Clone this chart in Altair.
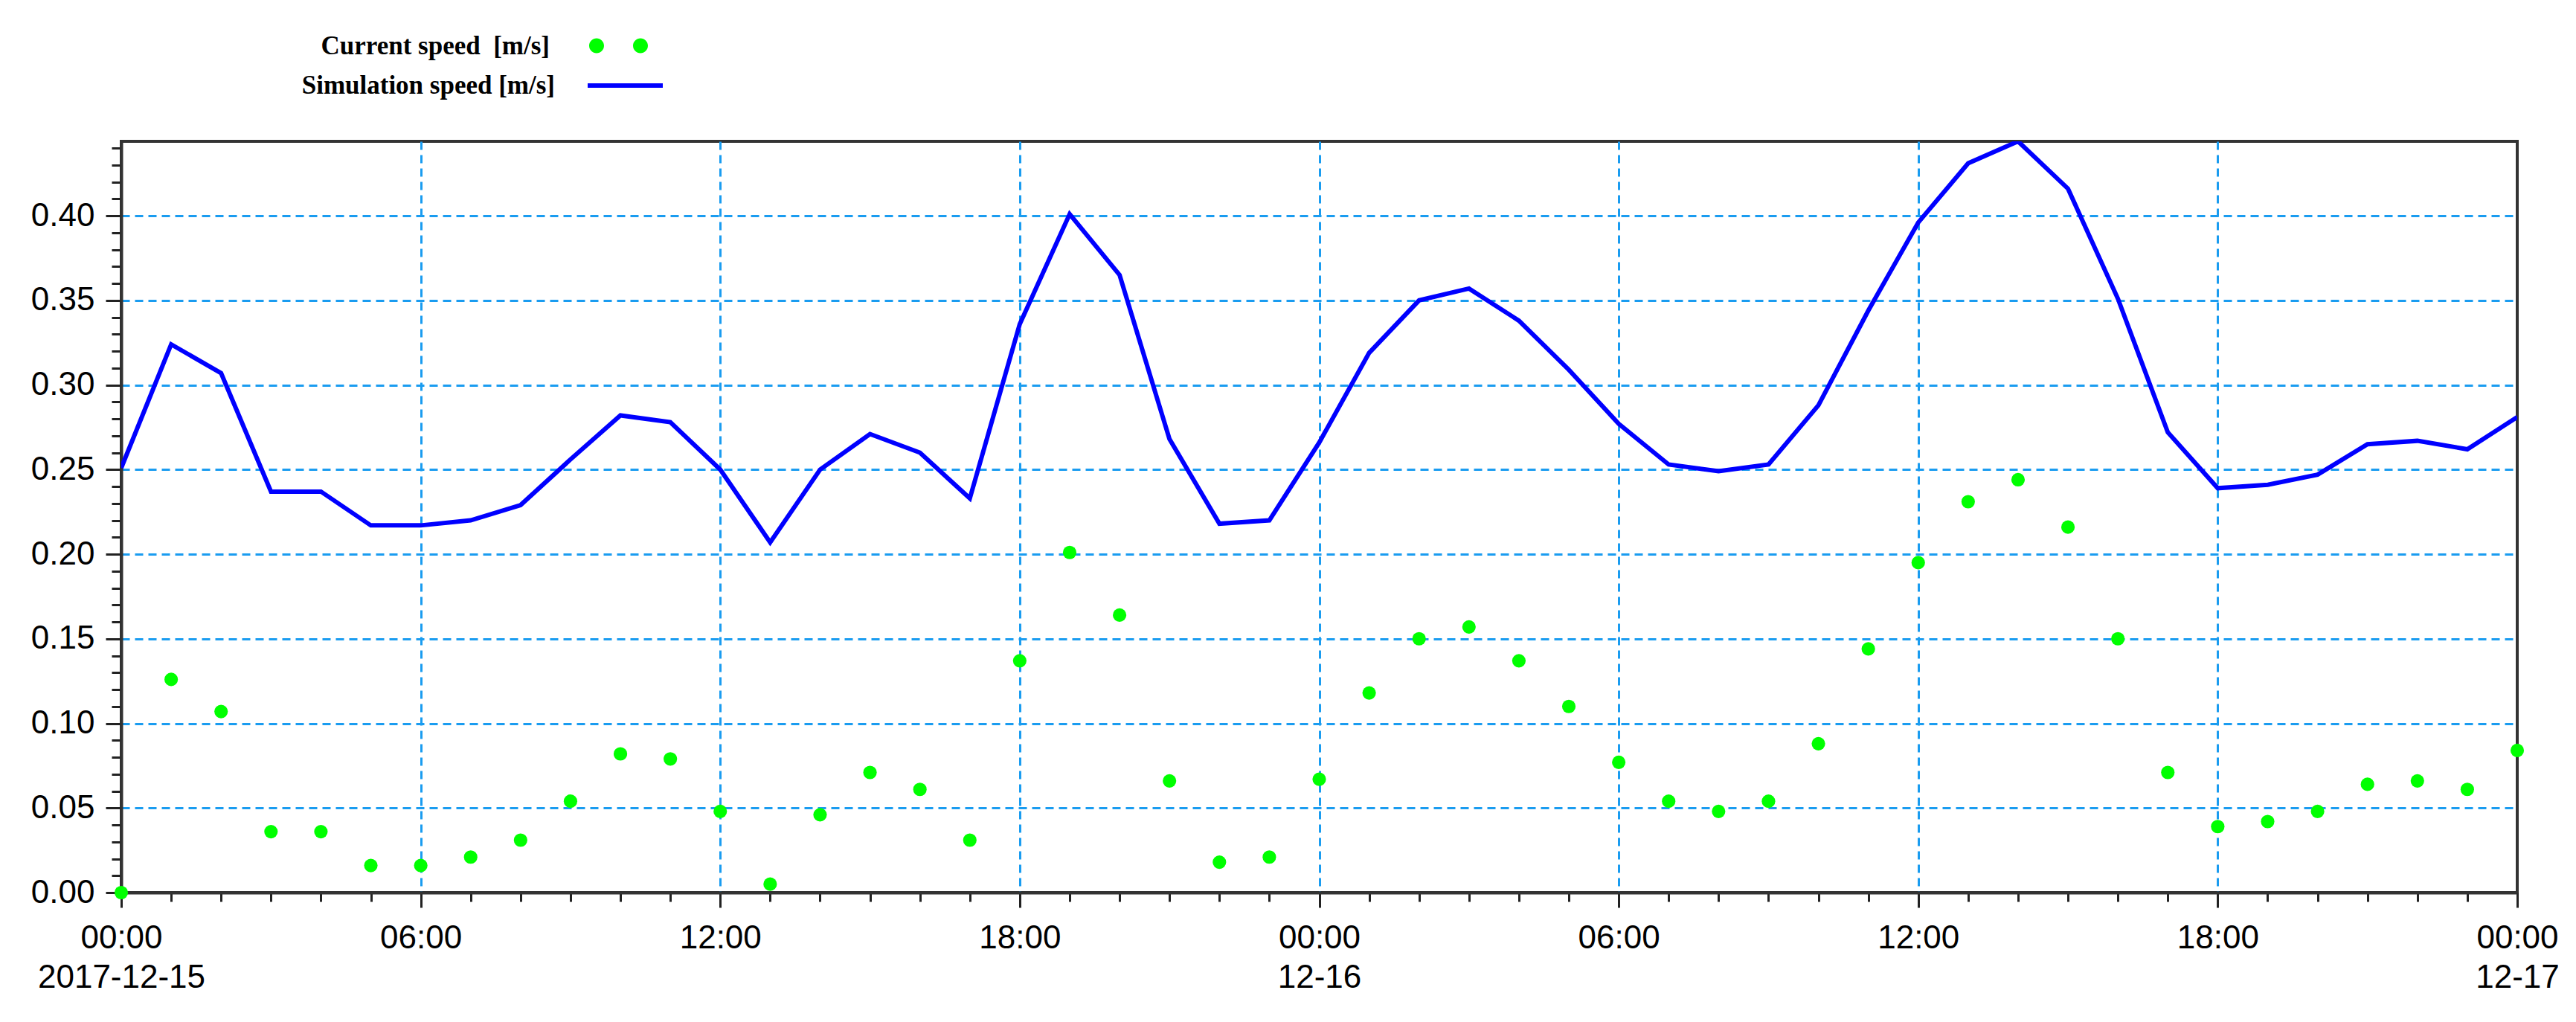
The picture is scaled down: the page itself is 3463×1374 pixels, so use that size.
import altair as alt
import pandas as pd

# ---------------- data ----------------
start = pd.Timestamp("2017-12-15 00:00", tz="UTC")
hours = pd.date_range(start, periods=49, freq="h")
times = [t.strftime("%Y-%m-%dT%H:%M:%SZ") for t in hours]

current_speed = [0.000, 0.126, 0.107, 0.036, 0.036, 0.016, 0.016, 0.021, 0.031, 0.054,
                 0.082, 0.079, 0.048, 0.005, 0.046, 0.071, 0.061, 0.031, 0.137, 0.201,
                 0.164, 0.066, 0.018, 0.021, 0.067, 0.118, 0.150, 0.157, 0.137, 0.110,
                 0.077, 0.054, 0.048, 0.054, 0.088, 0.144, 0.195, 0.231, 0.244, 0.216,
                 0.150, 0.071, 0.039, 0.042, 0.048, 0.064, 0.066, 0.061, 0.084]

simulation_speed = [0.251, 0.324, 0.307, 0.237, 0.237, 0.217, 0.217, 0.220, 0.229, 0.256,
                    0.282, 0.278, 0.250, 0.207, 0.250, 0.271, 0.260, 0.233, 0.336, 0.401,
                    0.365, 0.268, 0.218, 0.220, 0.266, 0.319, 0.350, 0.357, 0.338, 0.309,
                    0.277, 0.253, 0.249, 0.253, 0.288, 0.344, 0.396, 0.431, 0.444, 0.416,
                    0.351, 0.272, 0.239, 0.241, 0.247, 0.265, 0.267, 0.262, 0.281]

series_names = ["Current speed\u00a0 [m/s]", "Simulation speed [m/s]"]
date_labels = ["2017-12-15", "12-16", "12-17"]
y_tick_values = [round(i * 0.01, 2) for i in range(45)]
x_tick_values = [int(t.timestamp() * 1000) for t in hours]
t0 = x_tick_values[0]
t1 = x_tick_values[-1]

df_cur = pd.DataFrame({"time": times, "speed": current_speed, "series": series_names[0]})
df_sim = pd.DataFrame({"time": times, "speed": simulation_speed, "series": series_names[1]})

# ---------------- style ----------------
GRID = "#1a9cf0"
AX = "#333333"
date_js = "[" + ",".join(f"'{d}'" for d in date_labels) + "]"

x_major = "utchours(datum.value) % 6 === 0"
x_grid = f"{x_major} && datum.value > {t0} && datum.value < {t1}"
x_axis = alt.Axis(
    values=x_tick_values,
    labelExpr=(f"utchours(datum.value) % 6 !== 0 ? '' : (utchours(datum.value) === 0 ? "
               f"[utcFormat(datum.value, '%H:%M'), {date_js}[round((datum.value - {t0}) / 86400000)]] "
               f": utcFormat(datum.value, '%H:%M'))"),
    labelFlush=False, labelOverlap=False, labelLimit=0,
    labelFont="Liberation Sans", labelFontSize=44, labelColor="black",
    labelPadding=19, labelLineHeight=53,
    tickSize={"condition": {"test": x_major, "value": 20}, "value": 12},
    tickColor="#222222", tickWidth=3,
    grid=True, gridColor=GRID, gridWidth=3, gridDash=[11, 7],
    gridOpacity={"condition": {"test": x_grid, "value": 1}, "value": 0},
    domainColor=AX, domainWidth=4, title=None,
)

y_major = "round(datum.value * 100) % 5 === 0"
y_grid = f"{y_major} && datum.value > 0"
y_axis = alt.Axis(
    values=y_tick_values,
    labelExpr=f"{y_major} ? format(datum.value, '.2f') : ''",
    labelOverlap=False, labelLimit=0,
    labelFont="Liberation Sans", labelFontSize=44, labelColor="black",
    labelPadding=15,
    tickSize={"condition": {"test": y_major, "value": 21}, "value": 13},
    tickColor="#222222", tickWidth=3,
    grid=True, gridColor=GRID, gridWidth=3, gridDash=[11, 7],
    gridOpacity={"condition": {"test": y_grid, "value": 1}, "value": 0},
    domainColor=AX, domainWidth=4, title=None,
)

x_enc = alt.X("time:T",
              scale=alt.Scale(type="utc",
                              domain=[alt.DateTime(year=2017, month=12, date=15, utc=True),
                                      alt.DateTime(year=2017, month=12, date=17, utc=True)]),
              axis=x_axis)
y_enc = alt.Y("speed:Q", scale=alt.Scale(domain=[0, 0.444], nice=False, zero=False), axis=y_axis)

two_dots = ("M-1.339,0A0.339,0.339,0,1,0,-0.661,0A0.339,0.339,0,1,0,-1.339,0Z"
            "M0.661,0A0.339,0.339,0,1,0,1.339,0A0.339,0.339,0,1,0,0.661,0Z")

legend_common = dict(
    orient="none", title=None, padding=0, offset=0,
    labelAlign="right", labelFont="Liberation Serif", labelFontWeight="bold",
    labelFontSize=35, labelColor="black", labelLimit=2000,
)

line = alt.Chart(df_sim).mark_line(strokeWidth=6, clip=True).encode(
    x=x_enc, y=y_enc,
    color=alt.Color("series:N",
                    scale=alt.Scale(domain=[series_names[1]], range=["#0000ff"]),
                    legend=alt.Legend(legendX=624, legendY=-128.5, symbolType="stroke",
                                      symbolSize=10201, symbolStrokeWidth=6,
                                      labelOffset={"expr": "-148"}, **legend_common)),
)

points = alt.Chart(df_cur).mark_point(filled=True, size=330, opacity=1, clip=False).encode(
    x=x_enc, y=y_enc,
    color=alt.Color("series:N",
                    scale=alt.Scale(domain=[series_names[0]], range=["#00ff00"]),
                    legend=alt.Legend(legendX=639, legendY=-158, symbolType=two_dots,
                                      symbolSize=3481, symbolStrokeWidth=0, symbolOpacity=1,
                                      labelOffset={"expr": "-122"}, **legend_common)),
)

chart = (
    alt.layer(line, points)
    .resolve_scale(color="independent")
    .properties(
        width=3221, height=1010,
        padding={"left": 155, "top": 182, "right": 70, "bottom": 150},
        autosize=alt.AutoSizeParams(type="none"),
        background="white",
    )
    .configure_view(stroke=AX, strokeWidth=4)
)

chart.save("out.html", embed_options={"renderer": "svg", "actions": False})
